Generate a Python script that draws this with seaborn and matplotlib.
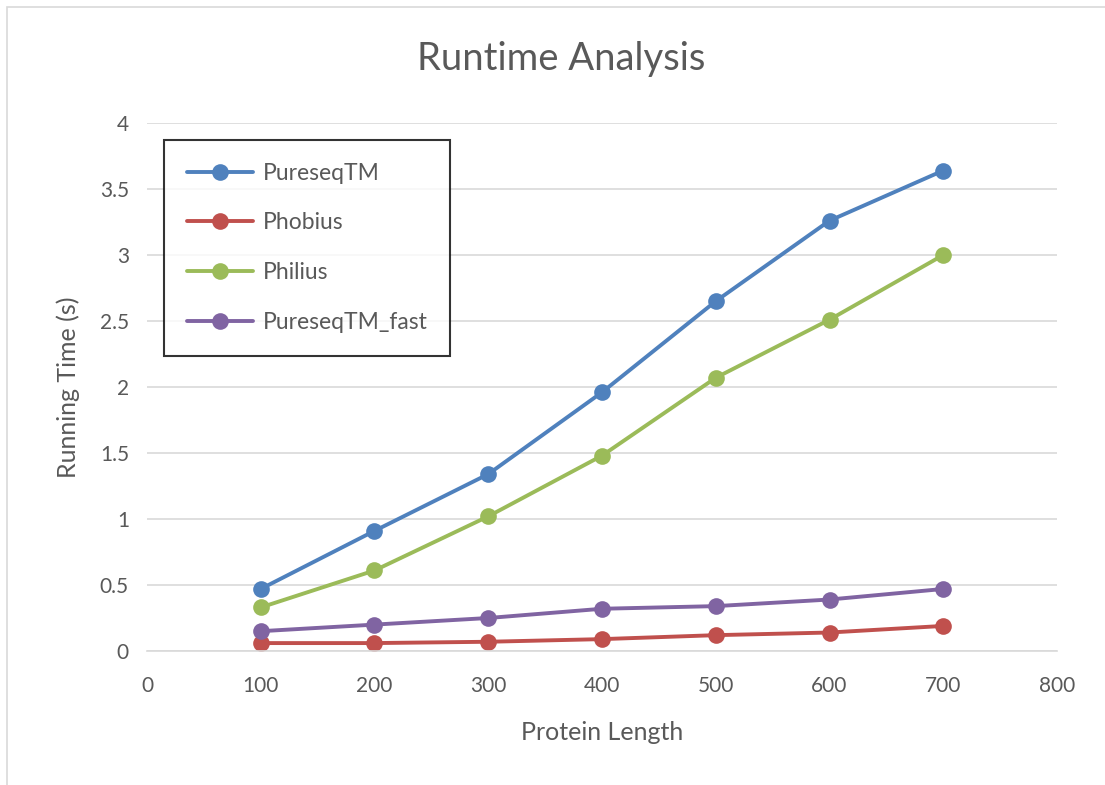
import matplotlib
matplotlib.use("Agg")
import matplotlib.pyplot as plt
import seaborn as sns
import pandas as pd
from matplotlib.patches import Rectangle

lengths = [100, 200, 300, 400, 500, 600, 700]
pureseqtm = [0.47, 0.91, 1.34, 1.96, 2.65, 3.26, 3.64]
phobius = [0.06, 0.06, 0.07, 0.09, 0.12, 0.14, 0.19]
philius = [0.33, 0.61, 1.02, 1.48, 2.07, 2.51, 3.00]
pureseqtm_fast = [0.15, 0.20, 0.25, 0.32, 0.34, 0.39, 0.47]

series = ["PureseqTM", "Phobius", "Philius", "PureseqTM_fast"]
colors = ["#4F81BD", "#C0504D", "#9BBB59", "#8064A2"]
xticks = [0, 100, 200, 300, 400, 500, 600, 700, 800]
yticks = [0, 0.5, 1, 1.5, 2, 2.5, 3, 3.5, 4]
ytick_labels = ["0", "0.5", "1", "1.5", "2", "2.5", "3", "3.5", "4"]

df = pd.DataFrame({
    "Protein Length": lengths * 4,
    "Running Time": pureseqtm + phobius + philius + pureseqtm_fast,
    "Method": sum([[s] * len(lengths) for s in series], []),
})

sns.set_theme(style="white")
plt.rcParams["font.family"] = ["Lato", "DejaVu Sans"]
text_color = "#595959"

fig = plt.figure(figsize=(11.05, 7.85), dpi=100)
fig.patches.append(Rectangle((7 / 1105, -0.01), 1.1, 1 - 7 / 785 + 0.01,
                             transform=fig.transFigure, fill=False,
                             edgecolor="#D9D9D9", linewidth=1.2))
ax = fig.add_axes([0.133, 0.1707, 0.8236, 0.6726])

sns.lineplot(data=df, x="Protein Length", y="Running Time", hue="Method",
             hue_order=series, palette=colors, marker="o", markersize=12,
             markeredgewidth=0, linewidth=2.8, ax=ax)

ax.set_xlim(0, 800)
ax.set_ylim(0, 4)
ax.set_xticks(xticks)
ax.set_xticklabels([str(t) for t in xticks])
ax.set_yticks(yticks)
ax.set_yticklabels(ytick_labels)
ax.tick_params(axis="both", labelsize=15, colors=text_color, length=0)
ax.tick_params(axis="x", pad=18)
ax.tick_params(axis="y", pad=13)
ax.grid(axis="y", color="#D9D9D9", linewidth=1.2)
ax.grid(axis="x", visible=False)
for side in ["top", "right", "left"]:
    ax.spines[side].set_visible(False)
ax.spines["bottom"].set_color("#D9D9D9")
ax.spines["bottom"].set_linewidth(1.2)

ax.set_xlabel("Protein Length", fontsize=18, color=text_color, labelpad=18)
ax.set_ylabel("Running Time (s)", fontsize=18, color=text_color, labelpad=14)
fig.text(0.508, 0.925, "Runtime Analysis", ha="center", va="center",
         fontsize=27.5, color=text_color)

leg = ax.legend(loc="upper left", bbox_to_anchor=(0.0187, 0.968),
                fontsize=16.5, frameon=True, fancybox=False, borderpad=1.0,
                labelspacing=1.25, handlelength=2.9, handletextpad=0.4,
                borderaxespad=0)
leg.get_frame().set_edgecolor("black")
leg.get_frame().set_linewidth(1.5)
for t in leg.get_texts():
    t.set_color(text_color)

fig.savefig("out.png", dpi=100)
